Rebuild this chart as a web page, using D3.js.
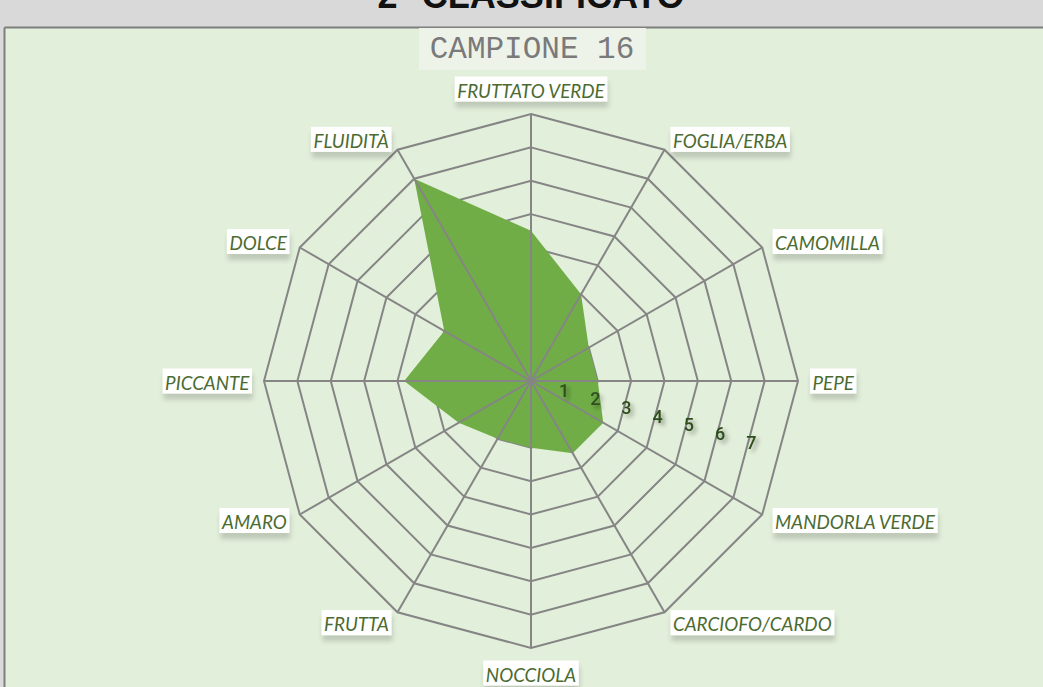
<!DOCTYPE html>
<html>
<head>
<meta charset="utf-8">
<script src="https://cdn.jsdelivr.net/npm/d3@7"></script>
<style>
  html, body { margin: 0; padding: 0; background: #dadada; }
  svg { display: block; }
</style>
</head>
<body>
<div id="chart"></div>
<script>
// Data
const axes = ["FRUTTATO VERDE", "FOGLIA/ERBA", "CAMOMILLA", "PEPE", "MANDORLA VERDE", "CARCIOFO/CARDO",
              "NOCCIOLA", "FRUTTA", "AMARO", "PICCANTE", "DOLCE", "FLUIDITÀ"];
const values = [4.5, 3, 2, 2, 2.5, 2.5, 2, 2, 2.5, 3.8, 3, 7];
const levels = [1, 2, 3, 4, 5, 6, 7, 8];
const tickLabels = [1, 2, 3, 4, 5, 6, 7];
const chartTitle = "CAMPIONE 16";
const headerText = "2° CLASSIFICATO";

const W = 1043, H = 687;
const cx = 531, cy = 381;

const svg = d3.select("#chart").append("svg")
  .attr("width", W)
  .attr("height", H);

const defs = svg.append("defs");
const boxShadow = defs.append("filter").attr("id", "boxShadow")
  .attr("x", "-20%").attr("y", "-30%").attr("width", "140%").attr("height", "190%");
boxShadow.append("feDropShadow")
  .attr("dx", 1).attr("dy", 6).attr("stdDeviation", 2.5)
  .attr("flood-color", "#000").attr("flood-opacity", 0.16);

const numShadow = defs.append("filter").attr("id", "numShadow")
  .attr("x", "-50%").attr("y", "-50%").attr("width", "220%").attr("height", "220%");
numShadow.append("feDropShadow")
  .attr("dx", 3).attr("dy", 3).attr("stdDeviation", 2)
  .attr("flood-color", "#000").attr("flood-opacity", 0.35);

// Header band + plot area
svg.append("rect").attr("x", 0).attr("y", 0).attr("width", W).attr("height", 28).attr("fill", "#d9d9d9");
svg.append("text")
  .attr("x", cx).attr("y", 8)
  .attr("text-anchor", "middle")
  .attr("font-family", "Liberation Sans, Arial, sans-serif")
  .attr("font-weight", "bold")
  .attr("font-size", "36px")
  .attr("fill", "#111")
  .text(headerText);
svg.append("rect").attr("x", 5).attr("y", 28).attr("width", W - 5).attr("height", H - 28).attr("fill", "#e2efda");
svg.append("line").attr("x1", 4.5).attr("x2", W).attr("y1", 27.5).attr("y2", 27.5)
  .attr("stroke", "#7f7f7f").attr("stroke-width", 2);
svg.append("line").attr("x1", 4.5).attr("x2", 4.5).attr("y1", 27.5).attr("y2", H)
  .attr("stroke", "#7f7f7f").attr("stroke-width", 2);

// Chart title
const titleG = svg.append("g");
titleG.append("rect")
  .attr("x", 419).attr("y", 28).attr("width", 227).attr("height", 42)
  .attr("fill", "#eef3ea");
titleG.append("text")
  .attr("x", 532).attr("y", 58)
  .attr("text-anchor", "middle")
  .attr("font-family", "Liberation Mono, Courier New, monospace")
  .attr("font-size", "31px")
  .attr("fill", "#7a7a7a")
  .text(chartTitle);

// Scales
const r = d3.scaleLinear().domain([0, 8]).range([0, 267]);
const angle = d3.scaleLinear().domain([0, axes.length]).range([0, 2 * Math.PI]);

const g = svg.append("g").attr("transform", `translate(${cx},${cy})`);

const ring = d3.lineRadial()
  .angle((d, i) => angle(i))
  .radius(d => r(d))
  .curve(d3.curveLinearClosed);

// Rings (under the fill)
g.selectAll("path.ring")
  .data(levels)
  .enter().append("path")
  .attr("class", "ring")
  .attr("d", lv => ring(axes.map(() => lv)))
  .attr("fill", "none")
  .attr("stroke", "#858585")
  .attr("stroke-width", 2);

// Series area
g.append("path")
  .attr("d", ring(values))
  .attr("fill", "#70ad47");

// Spokes (over the fill)
g.selectAll("line.spoke")
  .data(axes)
  .enter().append("line")
  .attr("class", "spoke")
  .attr("x1", 0).attr("y1", 0)
  .attr("x2", (d, i) => r(8) * Math.sin(angle(i)))
  .attr("y2", (d, i) => -r(8) * Math.cos(angle(i)))
  .attr("stroke", "#858585")
  .attr("stroke-width", 2);

// Value axis numbers
const tickAng = 15.5 * Math.PI / 180;
g.selectAll("text.tick")
  .data(tickLabels)
  .enter().append("text")
  .attr("class", "tick")
  .attr("x", d => (r(d) + 2) * 0.97 * Math.cos(tickAng))
  .attr("y", d => (r(d) + 2) * 0.97 * Math.sin(tickAng))
  .attr("text-anchor", "middle")
  .attr("dominant-baseline", "central")
  .attr("font-family", "Roboto, sans-serif")
  .attr("font-weight", 500)
  .attr("font-size", "18px")
  .attr("fill", "#2f4f1f")
  .attr("filter", "url(#numShadow)")
  .text(d => d);

// Category labels
const sx = 0.94;
axes.forEach((name, i) => {
  const a = angle(i);
  const s = Math.sin(a), c = Math.cos(a);
  const gap = 12;
  const px = (r(8) + gap) * s;
  let py = -(r(8) + gap) * c;
  const anchor = Math.abs(s) < 0.01 ? "middle" : (s > 0 ? "start" : "end");
  if (anchor === "middle") py += c > 0 ? -13 : 13;

  const lg = g.append("g");
  const box = lg.append("rect").attr("fill", "#fff").attr("filter", "url(#boxShadow)");
  const t = lg.append("text")
    .attr("font-family", "Lato, sans-serif")
    .attr("font-style", "italic")
    .attr("font-size", "20px")
    .attr("fill", "#4b6b31")
    .attr("dominant-baseline", "central")
    .text(name);
  const tw = t.node().getComputedTextLength() * sx;
  const bw = tw + 5, bh = 25;
  const bx = anchor === "start" ? px : (anchor === "end" ? px - bw : px - bw / 2);
  box.attr("x", bx).attr("y", py - bh / 2).attr("width", bw).attr("height", bh);
  t.attr("transform", `translate(${bx + 2.5},${py + 1}) scale(${sx},1)`);
});
</script>
</body>
</html>
